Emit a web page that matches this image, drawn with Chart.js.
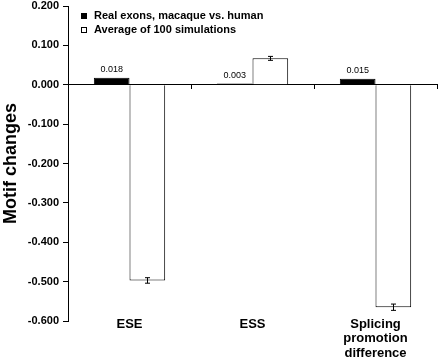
<!DOCTYPE html>
<html>
<head>
<meta charset="utf-8">
<script src="https://cdn.jsdelivr.net/npm/chart.js@4"></script>
<style>
  html, body { margin: 0; padding: 0; background: #fff; }
  #wrap { width: 440px; height: 359px; }
</style>
</head>
<body>
<div id="wrap"><canvas id="chart"></canvas></div>
<script>
const categories = ['ESE', 'ESS', ['Splicing', 'promotion', 'difference']];
const realValues = [0.018, 0.003, 0.015];
const simValues = [-0.497, 0.067, -0.565];
const simErrors = [0.007, 0.005, 0.008];
const seriesNames = ['Real exons, macaque vs. human', 'Average of 100 simulations'];

const FONT = "'Liberation Sans', Arial, sans-serif";

// error bars on the simulation bars
const errorBars = {
  id: 'errorBars',
  afterDatasetsDraw(chart) {
    const c = chart.ctx;
    const meta = chart.getDatasetMeta(1);
    const y = chart.scales.y;
    c.save();
    c.strokeStyle = '#000';
    c.lineWidth = 1;
    meta.data.forEach((bar, i) => {
      const x = Math.round(bar.x) + 0.5;
      const top = y.getPixelForValue(simValues[i] + simErrors[i]);
      const bot = y.getPixelForValue(simValues[i] - simErrors[i]);
      c.beginPath();
      c.moveTo(x, top); c.lineTo(x, bot);
      c.moveTo(x - 2.5, top); c.lineTo(x + 2.5, top);
      c.moveTo(x - 2.5, bot); c.lineTo(x + 2.5, bot);
      c.stroke();
    });
    // value labels above real bars
    const meta0 = chart.getDatasetMeta(0);
    c.fillStyle = '#000';
    c.font = '9px ' + FONT;
    c.textAlign = 'center';
    c.textBaseline = 'bottom';
    meta0.data.forEach((bar, i) => {
      c.fillText(realValues[i].toFixed(3), bar.x, bar.y - 4);
    });
    c.restore();
  }
};

// legend inside the plot, top-left
const innerLegend = {
  id: 'innerLegend',
  afterDraw(chart) {
    const c = chart.ctx;
    c.save();
    c.font = 'bold 11px ' + FONT;
    c.textBaseline = 'middle';
    c.textAlign = 'left';
    const rows = [16, 30];
    rows.forEach((yy, i) => {
      c.fillStyle = i === 0 ? '#000' : '#fff';
      c.fillRect(81, yy - 3, 6, 6);
      c.strokeStyle = '#000';
      c.lineWidth = 1;
      c.strokeRect(81.5, yy - 2.5, 5, 5);
      c.fillStyle = '#000';
      c.fillText(seriesNames[i], 94, yy);
    });
    c.restore();
  }
};

new Chart(document.getElementById('chart'), {
  type: 'bar',
  data: {
    labels: categories,
    datasets: [
      {
        label: seriesNames[0],
        data: realValues,
        backgroundColor: '#000',
        borderColor: '#000',
        borderWidth: 1,
        categoryPercentage: 0.58,
        barPercentage: 1.0
      },
      {
        label: seriesNames[1],
        data: simValues,
        backgroundColor: '#fff',
        borderColor: '#000',
        borderWidth: 1,
        categoryPercentage: 0.58,
        barPercentage: 1.0
      }
    ]
  },
  options: {
    responsive: true,
    maintainAspectRatio: false,
    animation: false,
    layout: { padding: { top: 6, right: 3, left: 0, bottom: 38 } },
    plugins: {
      legend: { display: false },
      title: { display: false },
      tooltip: { enabled: false }
    },
    scales: {
      x: {
        position: { y: -0.6 },
        border: { display: false },
        grid: { display: false, drawTicks: false, tickLength: 0 },
        ticks: {
          color: '#000',
          padding: -4,
          font: { family: FONT, size: 13, weight: 'bold', lineHeight: 1.12 }
        }
      },
      x0: {
        position: { y: 0 },
        labels: categories,
        offset: true,
        border: { display: true, color: '#000', width: 1 },
        grid: { drawOnChartArea: false, drawTicks: true, tickLength: 4, color: '#000', offset: true },
        ticks: { display: false }
      },
      y: {
        min: -0.6,
        max: 0.2,
        border: { display: true, color: '#000', width: 1 },
        grid: { drawOnChartArea: false, drawTicks: true, tickLength: 5, color: '#000' },
        ticks: {
          stepSize: 0.1,
          color: '#000',
          padding: 4,
          font: { family: FONT, size: 11, weight: 'bold', lineHeight: 1 },
          callback: v => v.toFixed(3)
        },
        title: {
          display: true,
          text: 'Motif changes',
          color: '#000',
          padding: { top: 0, bottom: 2 },
          font: { family: FONT, size: 18, weight: 'bold' }
        },
        afterFit(scale) {
          scale.width = 68;
          scale.paddingTop = 0;
          scale.paddingBottom = 0;
        }
      }
    }
  },
  plugins: [errorBars, innerLegend]
});
</script>
</body>
</html>
